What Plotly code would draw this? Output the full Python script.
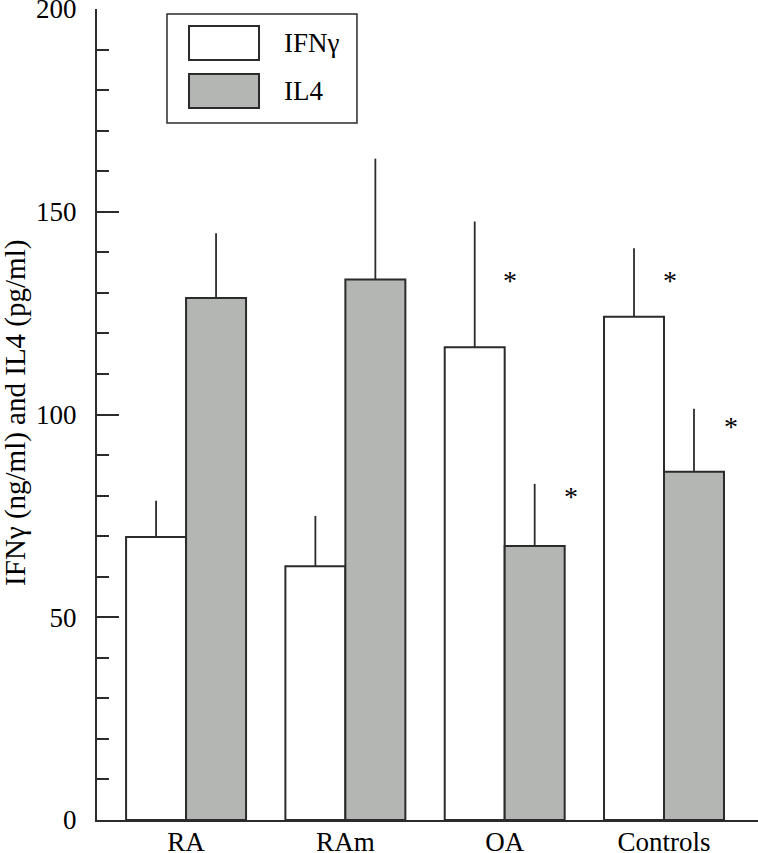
import plotly.graph_objects as go

groups = ["RA", "RAm", "OA", "Controls"]
ifn_mean = [69.8, 62.6, 116.6, 124.1]
ifn_err = [8.9, 12.4, 31.0, 16.9]
il4_mean = [128.7, 133.3, 67.6, 85.9]
il4_err = [16.0, 29.8, 15.3, 15.5]
ifn_sig = [False, False, True, True]
il4_sig = [False, False, True, True]
star_y_ifn = [None, None, 133.0, 133.0]
star_y_il4 = [None, None, 79.7, 97.0]
y_ticks = [0, 50, 100, 150, 200]
y_minor_step = 10
y_range = [0, 200]
y_title = "IFNγ (ng/ml) and IL4 (pg/ml)"

x = list(range(len(groups)))
dark = "#2b2b2b"
gray = "#b4b6b3"
font = "Liberation Serif"

fig = go.Figure()
fig.add_trace(go.Bar(
    x=x, y=ifn_mean, name="IFNγ",
    marker=dict(color="white", line=dict(color=dark, width=2)),
    error_y=dict(type="data", array=ifn_err, arrayminus=[0]*4, symmetric=False,
                 width=0, thickness=1.8, color=dark),
))
fig.add_trace(go.Bar(
    x=x, y=il4_mean, name="IL4",
    marker=dict(color=gray, line=dict(color=dark, width=2)),
    error_y=dict(type="data", array=il4_err, arrayminus=[0]*4, symmetric=False,
                 width=0, thickness=1.8, color=dark),
))
# empty traces so the overlaid tick axes are drawn
fig.add_trace(go.Scatter(x=[], y=[], yaxis="y2", showlegend=False, hoverinfo="skip"))
fig.add_trace(go.Scatter(x=[], y=[], yaxis="y3", showlegend=False, hoverinfo="skip"))

half = (1 - 0.247) / 4
for i in x:
    if ifn_sig[i]:
        fig.add_annotation(x=i - half + 0.223, y=star_y_ifn[i], text="*", showarrow=False,
                           font=dict(family=font, size=28, color="black"), yanchor="middle")
    if il4_sig[i]:
        fig.add_annotation(x=i + half + 0.23, y=star_y_il4[i], text="*", showarrow=False,
                           font=dict(family=font, size=28, color="black"), yanchor="middle")

# custom legend
fig.add_shape(type="rect", xref="paper", yref="paper", x0=0.1059, x1=0.3933, y0=0.8594, y1=0.9938,
              line=dict(color=dark, width=1.5), fillcolor="white")
fig.add_shape(type="rect", xref="paper", yref="paper", x0=0.1392, x1=0.2451, y0=0.9371, y1=0.979,
              line=dict(color=dark, width=2), fillcolor="white")
fig.add_shape(type="rect", xref="paper", yref="paper", x0=0.1392, x1=0.2451, y0=0.8779, y1=0.9199,
              line=dict(color=dark, width=2), fillcolor=gray)
fig.add_annotation(xref="paper", yref="paper", x=0.2799, y=0.9575, text="IFNγ", showarrow=False,
                   xanchor="left", yanchor="middle", font=dict(family=font, size=27, color="black"))
fig.add_annotation(xref="paper", yref="paper", x=0.2799, y=0.8985, text="IL4", showarrow=False,
                   xanchor="left", yanchor="middle", font=dict(family=font, size=27, color="black"))

# y-axis title as rotated annotation
fig.add_annotation(xref="paper", yref="paper", x=-0.1225, y=0.502, text=y_title, showarrow=False,
                   textangle=-90, xanchor="center", yanchor="middle",
                   font=dict(family=font, size=29, color="black"))

tick_axis = dict(overlaying="y", side="left", range=y_range, tick0=0,
                 ticks="inside", tickwidth=2, tickcolor=dark,
                 showticklabels=False, showgrid=False, zeroline=False, showline=False,
                 automargin=False)

fig.update_layout(
    width=758, height=853,
    margin=dict(l=97, r=0, t=9, b=33, autoexpand=False),
    paper_bgcolor="white", plot_bgcolor="white",
    barmode="group", bargap=0.247, bargroupgap=0,
    showlegend=False,
    font=dict(family=font, size=27, color="black"),
    xaxis=dict(range=[-0.559, 3.59], tickvals=x, ticktext=groups, automargin=False,
               showline=True, linecolor=dark, linewidth=2, ticks="", showgrid=False,
               zeroline=False, ticklabelstandoff=-3,
               tickfont=dict(family=font, size=27, color="black")),
    yaxis=dict(range=y_range, tickvals=y_ticks, automargin=False,
               showline=True, linecolor=dark, linewidth=2, ticks="",
               showgrid=False, zeroline=False, ticklabeloverflow="allow",
               ticklabelstandoff=13,
               tickfont=dict(family=font, size=27, color="black")),
    yaxis2=dict(tick_axis, dtick=y_minor_step, ticklen=12),
    yaxis3=dict(tick_axis, tickvals=y_ticks, ticklen=22),
)

fig.write_html("out.html", post_script="document.body.style.margin='0';",
               config={"displayModeBar": False})
